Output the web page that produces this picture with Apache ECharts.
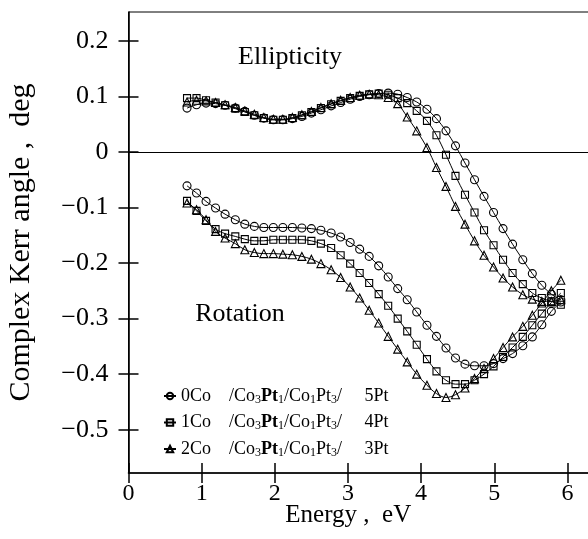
<!DOCTYPE html>
<html><head><meta charset="utf-8">
<script src="https://cdn.jsdelivr.net/npm/echarts@6/dist/echarts.min.js"></script>
<style>html,body{margin:0;padding:0;background:#fff}#c{width:588px;height:539px}</style>
</head><body><div id="c"></div>
<script>
const energy = [0.80,0.93,1.06,1.19,1.32,1.46,1.59,1.72,1.85,1.98,2.11,2.24,2.37,2.50,2.63,2.77,2.90,3.03,3.16,3.29,3.42,3.55,3.68,3.81,3.94,4.08,4.21,4.34,4.47,4.60,4.73,4.86,4.99,5.12,5.25,5.39,5.52,5.65,5.78,5.91];

const ellip0Co = [0.079,0.085,0.088,0.087,0.084,0.079,0.073,0.066,0.061,0.058, 0.058,0.060,0.064,0.070,0.076,0.083,0.089,0.095,0.100,0.103, 0.105,0.106,0.104,0.098,0.090,0.077,0.060,0.038,0.011,-0.020, -0.050,-0.080,-0.109,-0.138,-0.166,-0.194,-0.219,-0.240,-0.256,-0.266];
const ellip1Co = [0.097,0.097,0.093,0.089,0.084,0.078,0.072,0.066,0.061,0.058, 0.058,0.061,0.066,0.072,0.079,0.086,0.092,0.097,0.101,0.104, 0.105,0.103,0.097,0.088,0.074,0.056,0.030,-0.005,-0.043,-0.077, -0.109,-0.141,-0.168,-0.194,-0.218,-0.238,-0.254,-0.263,-0.269,-0.275];
const ellip2Co = [0.090,0.093,0.092,0.089,0.085,0.080,0.074,0.068,0.062,0.059, 0.059,0.062,0.067,0.073,0.080,0.087,0.093,0.098,0.102,0.104, 0.103,0.098,0.087,0.063,0.038,0.008,-0.028,-0.062,-0.098,-0.130, -0.160,-0.186,-0.207,-0.227,-0.243,-0.257,-0.265,-0.269,-0.269,-0.266];

const rot0Co = [-0.061,-0.074,-0.089,-0.101,-0.112,-0.122,-0.130,-0.134,-0.136,-0.136, -0.136,-0.136,-0.137,-0.138,-0.141,-0.146,-0.153,-0.163,-0.175,-0.188, -0.205,-0.225,-0.246,-0.266,-0.288,-0.312,-0.332,-0.353,-0.371,-0.382, -0.385,-0.385,-0.381,-0.372,-0.363,-0.349,-0.333,-0.311,-0.287,-0.270];
const rot1Co = [-0.088,-0.106,-0.124,-0.139,-0.147,-0.152,-0.157,-0.160,-0.160,-0.158, -0.158,-0.158,-0.158,-0.160,-0.165,-0.173,-0.186,-0.201,-0.218,-0.236, -0.256,-0.277,-0.300,-0.323,-0.347,-0.373,-0.395,-0.411,-0.418,-0.418, -0.411,-0.400,-0.386,-0.369,-0.352,-0.333,-0.312,-0.291,-0.271,-0.254];
const rot2Co = [-0.092,-0.104,-0.122,-0.143,-0.155,-0.165,-0.176,-0.181,-0.183,-0.183, -0.184,-0.185,-0.188,-0.193,-0.201,-0.212,-0.226,-0.243,-0.263,-0.285, -0.308,-0.332,-0.355,-0.378,-0.400,-0.420,-0.435,-0.442,-0.437,-0.425, -0.408,-0.390,-0.372,-0.352,-0.333,-0.314,-0.294,-0.272,-0.250,-0.231];

const sampleNames = ['0Co /Co3Pt1/Co1Pt3/ 5Pt','1Co /Co3Pt1/Co1Pt3/ 4Pt','2Co /Co3Pt1/Co1Pt3/ 3Pt'];
const legendRich = {
  '0Co /Co3Pt1/Co1Pt3/ 5Pt': '{n|0Co    /Co}{s|3}{b|Pt}{s|1}{n|/Co}{s|1}{n|Pt}{s|3}{n|/     5Pt}',
  '1Co /Co3Pt1/Co1Pt3/ 4Pt': '{n|1Co    /Co}{s|3}{b|Pt}{s|1}{n|/Co}{s|1}{n|Pt}{s|3}{n|/     4Pt}',
  '2Co /Co3Pt1/Co1Pt3/ 3Pt': '{n|2Co    /Co}{s|3}{b|Pt}{s|1}{n|/Co}{s|1}{n|Pt}{s|3}{n|/     3Pt}'
};
const symbols = ['circle','rect','triangle'];
const symbolSizes = [8,7,8];
const xTicks = [0,1,2,3,4,5,6];
const yTicks = [-0.5,-0.4,-0.3,-0.2,-0.1,0,0.1,0.2];
const xTitle = 'Energy ,  eV';
const yTitle = 'Complex Kerr angle ,  deg';

const FONT = '"Liberation Serif", "Times New Roman", serif';
const ellipSets = [ellip0Co, ellip1Co, ellip2Co];
const rotSets = [rot0Co, rot1Co, rot2Co];

function pairs(ys){ return energy.map((e,i)=>[e, ys[i]]); }
function mkSeries(k, ys, withMark){
  const s = {
    type:'line', name: sampleNames[k], data: pairs(ys),
    symbol: symbols[k], symbolSize: symbolSizes[k], smooth: 0.35,
    showAllSymbol: true,
    lineStyle:{color:'#000', width:1},
    itemStyle:{color:'rgba(255,255,255,0)', borderColor:'#000', borderWidth:1.1},
    emphasis:{disabled:true}, animation:false, z: 3
  };
  if (withMark) {
    s.markLine = {silent:true, symbol:'none', label:{show:false},
      lineStyle:{color:'#000', width:1.2, type:'solid'}, data:[{yAxis:0}], animation:false};
  }
  return s;
}
const series = [];
for (let k=0;k<3;k++){ series.push(mkSeries(k, ellipSets[k], k===0)); }
for (let k=0;k<3;k++){ series.push(mkSeries(k, rotSets[k], false)); }

const yFmt = v => Math.abs(v) < 1e-9 ? '0' : (v < 0 ? '\u2212' + (-v).toFixed(1) : v.toFixed(1));
const chart = echarts.init(document.getElementById('c'), null, {renderer:'canvas'});
chart.setOption({
  animation:false,
  backgroundColor:'#fff',
  grid:{left:128.5, right:-16, top:12, bottom:66, show:true, borderColor:'#000', borderWidth:1,
        backgroundColor:'transparent', containLabel:false, outerBoundsMode:'none'},
  xAxis:[
    {type:'value', min:0, max:6.5, position:'bottom',
     axisLine:{show:true, onZero:false, lineStyle:{color:'#000', width:1.6}},
     axisTick:{show:true, inside:true, length:10, customValues:xTicks, lineStyle:{color:'#000', width:1.5}},
     axisLabel:{show:true, customValues:xTicks, margin:9, color:'#000', fontSize:24, fontFamily:FONT},
     splitLine:{show:false},
     name:xTitle, nameLocation:'middle', nameGap:30, nameMoveOverlap:false,
     nameTextStyle:{color:'#000', fontSize:25, fontFamily:FONT, padding:[0,36,0,0]}},
    {type:'value', min:0, max:6.5, position:'bottom', offset:0,
     axisLine:{show:false, onZero:false},
     axisTick:{show:true, inside:false, length:10, customValues:xTicks, lineStyle:{color:'#000', width:1.5}},
     axisLabel:{show:false}, splitLine:{show:false}}
  ],
  yAxis:[
    {type:'value', min:-0.578, max:0.252, position:'left',
     axisLine:{show:true, onZero:false, lineStyle:{color:'#000', width:1.6}},
     axisTick:{show:true, inside:true, length:10, customValues:yTicks, lineStyle:{color:'#000', width:1.5}},
     axisLabel:{show:true, customValues:yTicks, margin:20, color:'#000', fontSize:26, fontFamily:FONT, formatter:yFmt},
     splitLine:{show:false},
     name:yTitle, nameLocation:'middle', nameGap:92,
     nameTextStyle:{color:'#000', fontSize:30, fontFamily:FONT}},
    {type:'value', min:-0.578, max:0.252, position:'left', offset:0,
     axisLine:{show:false, onZero:false},
     axisTick:{show:true, inside:false, length:10, customValues:yTicks, lineStyle:{color:'#000', width:1.5}},
     axisLabel:{show:false}, splitLine:{show:false}}
  ],
  legend:{
    show:true, orient:'vertical', left:158, top:382, itemGap:8,
    itemWidth:12, itemHeight:8, data:sampleNames, selectedMode:false,
    formatter: n => legendRich[n],
    textStyle:{color:'#000', fontFamily:FONT, fontSize:18,
      rich:{
        n:{fontSize:18, fontFamily:FONT, color:'#000', lineHeight:19},
        b:{fontSize:18, fontFamily:FONT, color:'#000', fontWeight:'bold', lineHeight:19},
        s:{fontSize:12, fontFamily:FONT, color:'#000', lineHeight:19, verticalAlign:'bottom', padding:[6,0,0,0]}
      }}
  },
  graphic:[
    {type:'text', style:{text:'Ellipticity', x:290, y:57, textAlign:'center', textVerticalAlign:'middle', font:'26px ' + FONT, fill:'#000'}},
    {type:'text', style:{text:'Rotation', x:240, y:314, textAlign:'center', textVerticalAlign:'middle', font:'26px ' + FONT, fill:'#000'}}
  ],
  series: series
});
</script>
</body></html>
